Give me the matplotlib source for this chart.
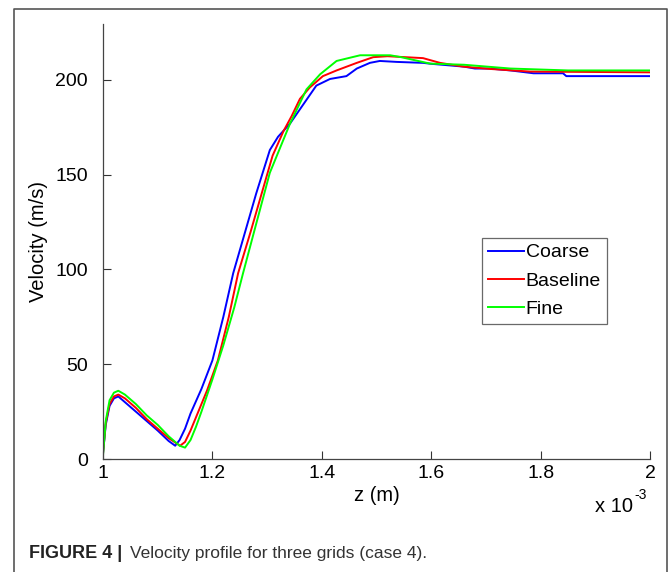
import matplotlib
matplotlib.use("Agg")
import matplotlib.pyplot as plt
from matplotlib.lines import Line2D

plt.rcParams['font.family'] = ['Liberation Sans', 'DejaVu Sans']

# z positions are in units of 1e-3 m
coarse_z = [1.000, 1.005, 1.012, 1.020, 1.028, 1.040, 1.060, 1.080, 1.100, 1.120,
            1.132, 1.140, 1.150, 1.160, 1.180, 1.200, 1.220, 1.238, 1.260, 1.280,
            1.305, 1.320, 1.342, 1.366, 1.390, 1.415, 1.445, 1.464, 1.488, 1.506,
            1.537, 1.585, 1.600, 1.660, 1.680, 1.707, 1.745, 1.787, 1.841, 1.847, 2.000]
coarse_v = [3, 18, 28, 32, 33, 30, 25, 20, 15, 9.5,
            7, 10, 16, 24, 37, 52, 75, 98, 120, 140,
            163, 170, 177, 187, 197, 200.5, 202, 206, 209, 210,
            209.5, 209, 208.5, 207, 206, 206, 205, 203.5, 203.5, 202, 202]

baseline_z = [1.000, 1.005, 1.012, 1.020, 1.028, 1.040, 1.060, 1.080, 1.100, 1.120,
              1.141, 1.150, 1.160, 1.170, 1.190, 1.210, 1.230, 1.247, 1.270, 1.290,
              1.310, 1.330, 1.345, 1.360, 1.378, 1.402, 1.427, 1.464, 1.494, 1.520,
              1.585, 1.616, 1.659, 1.707, 1.781, 2.000]
baseline_v = [3, 19, 29, 33, 34, 32, 27, 21, 16, 11,
              7, 9, 15, 22, 36, 52, 75, 98, 120, 140,
              160, 173, 181, 190, 196, 202, 205, 209, 212, 212.5,
              211.5, 209, 207, 205.8, 204.4, 204]

fine_z = [1.000, 1.005, 1.012, 1.020, 1.028, 1.040, 1.060, 1.080, 1.100, 1.120,
          1.140, 1.150, 1.160, 1.170, 1.180, 1.200, 1.220, 1.240, 1.256, 1.280,
          1.305, 1.342, 1.372, 1.397, 1.427, 1.470, 1.506, 1.525, 1.545, 1.598,
          1.660, 1.745, 1.850, 2.000]
fine_v = [2, 20, 31, 35, 36, 34, 29, 23, 18, 12,
          7, 6, 10, 17, 25, 42, 60, 80, 98, 124,
          151, 177, 195, 203, 210, 213, 213, 213, 212, 208.6,
          208, 206, 205, 205]

series = [("Coarse", coarse_z, coarse_v, (0, 0, 1)),
          ("Baseline", baseline_z, baseline_v, (1, 0, 0)),
          ("Fine", fine_z, fine_v, (0, 1, 0))]

fig = plt.figure(figsize=(6.7, 5.72), dpi=100)
ax = fig.add_axes([103 / 670, 1 - 459 / 572, 547 / 670, 435 / 572])

for name, z, v, c in series:
    ax.plot([zz * 1e-3 for zz in z], v, color=c, lw=1.4, label=name)

ax.set_xlim(1e-3, 2e-3)
ax.set_ylim(0, 229.5)
ax.set_xticks([1e-3, 1.2e-3, 1.4e-3, 1.6e-3, 1.8e-3, 2e-3])
ax.set_xticklabels(["1", "1.2", "1.4", "1.6", "1.8", "2"])
ax.set_yticks([0, 50, 100, 150, 200])
ax.tick_params(direction='in', length=6, width=0.8, labelsize=14, colors='#333333',
               labelcolor='black')
ax.tick_params(axis='x', pad=4)
ax.tick_params(axis='y', pad=11)
for s in ['top', 'right']:
    ax.spines[s].set_visible(False)
for s in ['left', 'bottom']:
    ax.spines[s].set_color('#444444')
    ax.spines[s].set_linewidth(0.9)

ax.set_xlabel("z (m)", fontsize=14.5, labelpad=3)
ax.set_ylabel("Velocity (m/s)", fontsize=14.5, labelpad=5)
fig.text(633 / 670, 1 - 507 / 572, "x 10", fontsize=14.5, ha='right', va='center')
fig.text(634 / 670, 1 - 495 / 572, "-3", fontsize=10, ha='left', va='center')

leg = ax.legend(loc='upper left', bbox_to_anchor=((482 - 103) / 547, (459 - 238) / 435),
                fontsize=14, frameon=True, fancybox=False, handlelength=1.85,
                handletextpad=0.1, borderpad=0.3, labelspacing=0.55, borderaxespad=0)
leg.get_frame().set_edgecolor('#444444')
leg.get_frame().set_linewidth(0.9)

# outer frame around the figure
fig.add_artist(Line2D([14 / 670, 14 / 670, 667 / 670, 667 / 670],
                      [0, 1 - 9 / 572, 1 - 9 / 572, 0],
                      color='#555555', lw=1.2, transform=fig.transFigure))

fig.text(29 / 670, 1 - 553.5 / 572, "FIGURE 4 |", fontsize=13, fontweight='bold',
         color='#222222', va='center')
fig.text(130 / 670, 1 - 553.5 / 572, "Velocity profile for three grids (case 4).",
         fontsize=12.5, color='#333333', va='center')

fig.savefig("out.png", dpi=100)
